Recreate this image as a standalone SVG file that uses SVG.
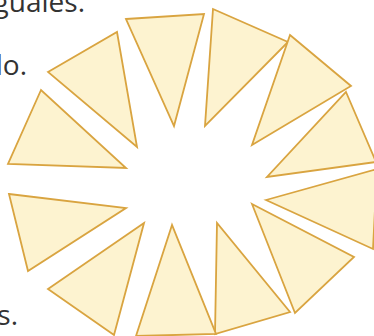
<svg xmlns="http://www.w3.org/2000/svg" width="374" height="336" viewBox="0 0 374 336">
<style>
.t{fill:#fdf3d0;stroke:#d9a440;stroke-width:1.8;stroke-linejoin:miter}
.x{font-family:"Open Sans","Liberation Sans",sans-serif;font-size:28px;fill:#333;text-anchor:end}
</style>
<rect width="374" height="336" fill="#fff"/>
<g id="texts">
<text class="x" x="85" y="12">guales.</text>
<text class="x" x="27" y="75">do.</text>
<text class="x" x="18" y="325">s.</text>
</g>
<g id="triA"><polygon class="t" points="48,72 117,32 137,147"/></g>
<g id="triB"><polygon class="t" points="126,19 204,14 174,126"/></g>
<g id="triD"><polygon class="t" points="213,9 288,42 205,126"/></g>
<g id="triE"><polygon class="t" points="290,35 351,86 252,145"/></g>
<g id="triF"><polygon class="t" points="346,92 376,162 267,177"/></g>
<g id="triL"><polygon class="t" points="266,200 377,169 373,249"/></g>
<g id="triK"><polygon class="t" points="252,204 354,257 295,313"/></g>
<g id="triJ"><polygon class="t" points="217,223 215,334 290,312"/></g>
<g id="triI"><polygon class="t" points="172,225 136,336 216,334"/></g>
<g id="triH"><polygon class="t" points="144,223 48,289 114,335"/></g>
<g id="triG"><polygon class="t" points="9,194 126,208 28,271"/></g>
<g id="triC"><polygon class="t" points="41,90 8,164 126,168"/></g>
<g id="connectors"/>
</svg>
